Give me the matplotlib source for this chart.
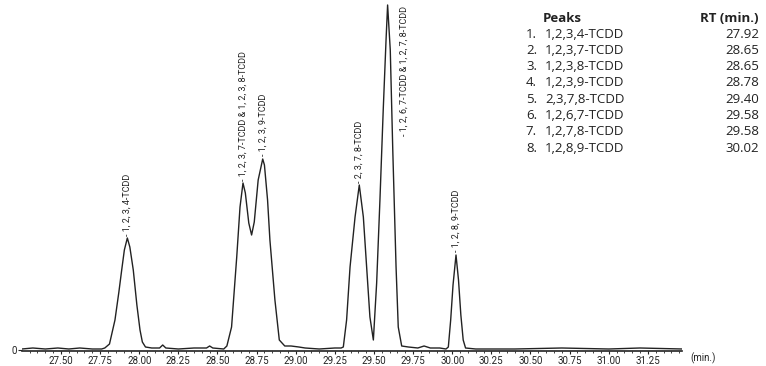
import matplotlib
matplotlib.use("Agg")
import matplotlib.pyplot as plt
from matplotlib import font_manager
from matplotlib.ticker import MultipleLocator, FixedLocator

# ── Chromatogram trace (retention time in min, detector response) ─────────────
rt_trace = [27.25, 27.32, 27.40, 27.48, 27.55, 27.62, 27.70, 27.76,
            27.78, 27.81, 27.845, 27.87, 27.888, 27.905, 27.924, 27.94,
            27.962, 27.985, 28.005, 28.02, 28.04, 28.08, 28.13, 28.15,
            28.17, 28.25, 28.35, 28.43, 28.45, 28.47, 28.54,
            28.56, 28.59, 28.623, 28.644, 28.663, 28.678, 28.70, 28.718,
            28.735, 28.76, 28.789, 28.80, 28.82, 28.835, 28.867, 28.895,
            28.93, 28.97, 29.02, 29.06, 29.15, 29.25, 29.29,
            29.304, 29.325, 29.347, 29.379, 29.406, 29.432, 29.453, 29.474,
            29.496, 29.517, 29.538, 29.559, 29.577, 29.587, 29.604, 29.62,
            29.641, 29.655, 29.677, 29.72, 29.78, 29.82, 29.86, 29.92,
            29.96, 29.975, 29.99, 30.005, 30.024, 30.04, 30.055, 30.07,
            30.085, 30.15, 30.40, 30.70, 31.00, 31.20, 31.47]
response = [1, 2, 1, 2, 1, 2, 1, 1,
            2, 6, 30, 58, 80, 100, 112, 103,
            80, 45, 20, 8, 3, 2, 2, 5,
            2, 1, 2, 2, 4, 2, 1,
            4, 23, 93, 143, 167, 157, 127, 115,
            128, 170, 191, 185, 150, 110, 50, 10,
            4, 4, 3, 2, 1, 2, 2,
            3, 30, 83, 133, 165, 133, 83, 33,
            10, 67, 150, 240, 310, 345, 300, 200,
            83, 23, 4, 3, 2, 4, 2, 2,
            1, 3, 30, 65, 95, 70, 35, 10,
            2, 1, 1, 2, 1, 2, 1]

# ── Peak annotations ──────────────────────────────────────────────────────────
label_text = ["1, 2, 3, 4-TCDD", "1, 2, 3, 7-TCDD & 1, 2, 3, 8-TCDD",
              "1, 2, 3, 9-TCDD", "2, 3, 7, 8-TCDD",
              "1, 2, 6, 7-TCDD & 1, 2, 7, 8-TCDD", "1, 2, 8, 9-TCDD"]
label_rt = [27.924, 28.663, 28.789, 29.406, 29.69, 30.024]
label_y = [114, 169, 194, 167, 214, 98]

# ── Peak table ────────────────────────────────────────────────────────────────
peak_no = ["1.", "2.", "3.", "4.", "5.", "6.", "7.", "8."]
peak_names = ["1,2,3,4-TCDD", "1,2,3,7-TCDD", "1,2,3,8-TCDD", "1,2,3,9-TCDD",
              "2,3,7,8-TCDD", "1,2,6,7-TCDD", "1,2,7,8-TCDD", "1,2,8,9-TCDD"]
peak_rt = ["27.92", "28.65", "28.65", "28.78", "29.40", "29.58", "29.58", "30.02"]

W, H = 766, 366
TABLE = ["Open Sans", "DejaVu Sans"]
INK = "#222222"

# narrow face for the axis and peak labels, whichever is installed
installed = {f.name for f in font_manager.fontManager.ttflist}
NARROW = "Liberation Sans Narrow" if "Liberation Sans Narrow" in installed else "Roboto"
SMALL = dict(family=NARROW, fontstretch="condensed", color=INK)

fig = plt.figure(figsize=(W / 100, H / 100), dpi=100)
ax = fig.add_axes([22 / W, 15 / H, 660 / W, 351 / H])

ax.plot(rt_trace, response, color=INK, linewidth=1.0)
ax.set_xlim(27.251, 31.468)
ax.set_ylim(-1, 350)

for s in ["top", "right", "left"]:
    ax.spines[s].set_visible(False)
ax.spines["bottom"].set_linewidth(1.2)
ax.spines["bottom"].set_color(INK)

major = [27.5 + 0.25 * i for i in range(16)]
ax.xaxis.set_major_locator(FixedLocator(major))
ax.xaxis.set_minor_locator(MultipleLocator(0.05))
ax.set_xticklabels([f"{v:.2f}" for v in major], fontsize=7, **SMALL)
ax.tick_params(axis="x", which="major", length=2.5, width=0.8, color=INK, pad=1)
ax.tick_params(axis="x", which="minor", length=1.5, width=0.6, color=INK)
ax.set_yticks([0])
ax.set_yticklabels(["0"], fontsize=7, **SMALL)
ax.tick_params(axis="y", length=3, width=0.8, color=INK, pad=1)

fig.text(690 / W, 1 - 358 / H, "(min.)", fontsize=7, ha="left", va="center",
         **SMALL)

for txt, x, y in zip(label_text, label_rt, label_y):
    ax.text(x, y, "- " + txt, rotation=90, ha="center", va="bottom",
            fontsize=6.5, **SMALL)

# peak table
row_y = [34 + 16.3 * i for i in range(8)]
fig.text(543 / W, 1 - 18 / H, "Peaks", fontsize=9.5, fontweight="bold",
         family=TABLE, color=INK, ha="left", va="center")
fig.text(759 / W, 1 - 18 / H, "RT (min.)", fontsize=9.5, fontweight="bold",
         family=TABLE, color=INK, ha="right", va="center")
for n, name, rt, y in zip(peak_no, peak_names, peak_rt, row_y):
    fig.text(537 / W, 1 - y / H, n, fontsize=9.5, family=TABLE, color=INK,
             ha="right", va="center")
    fig.text(545 / W, 1 - y / H, name, fontsize=9.5, family=TABLE, color=INK,
             ha="left", va="center")
    fig.text(759 / W, 1 - y / H, rt, fontsize=9.5, family=TABLE, color=INK,
             ha="right", va="center")

fig.savefig("out.png", dpi=100)
